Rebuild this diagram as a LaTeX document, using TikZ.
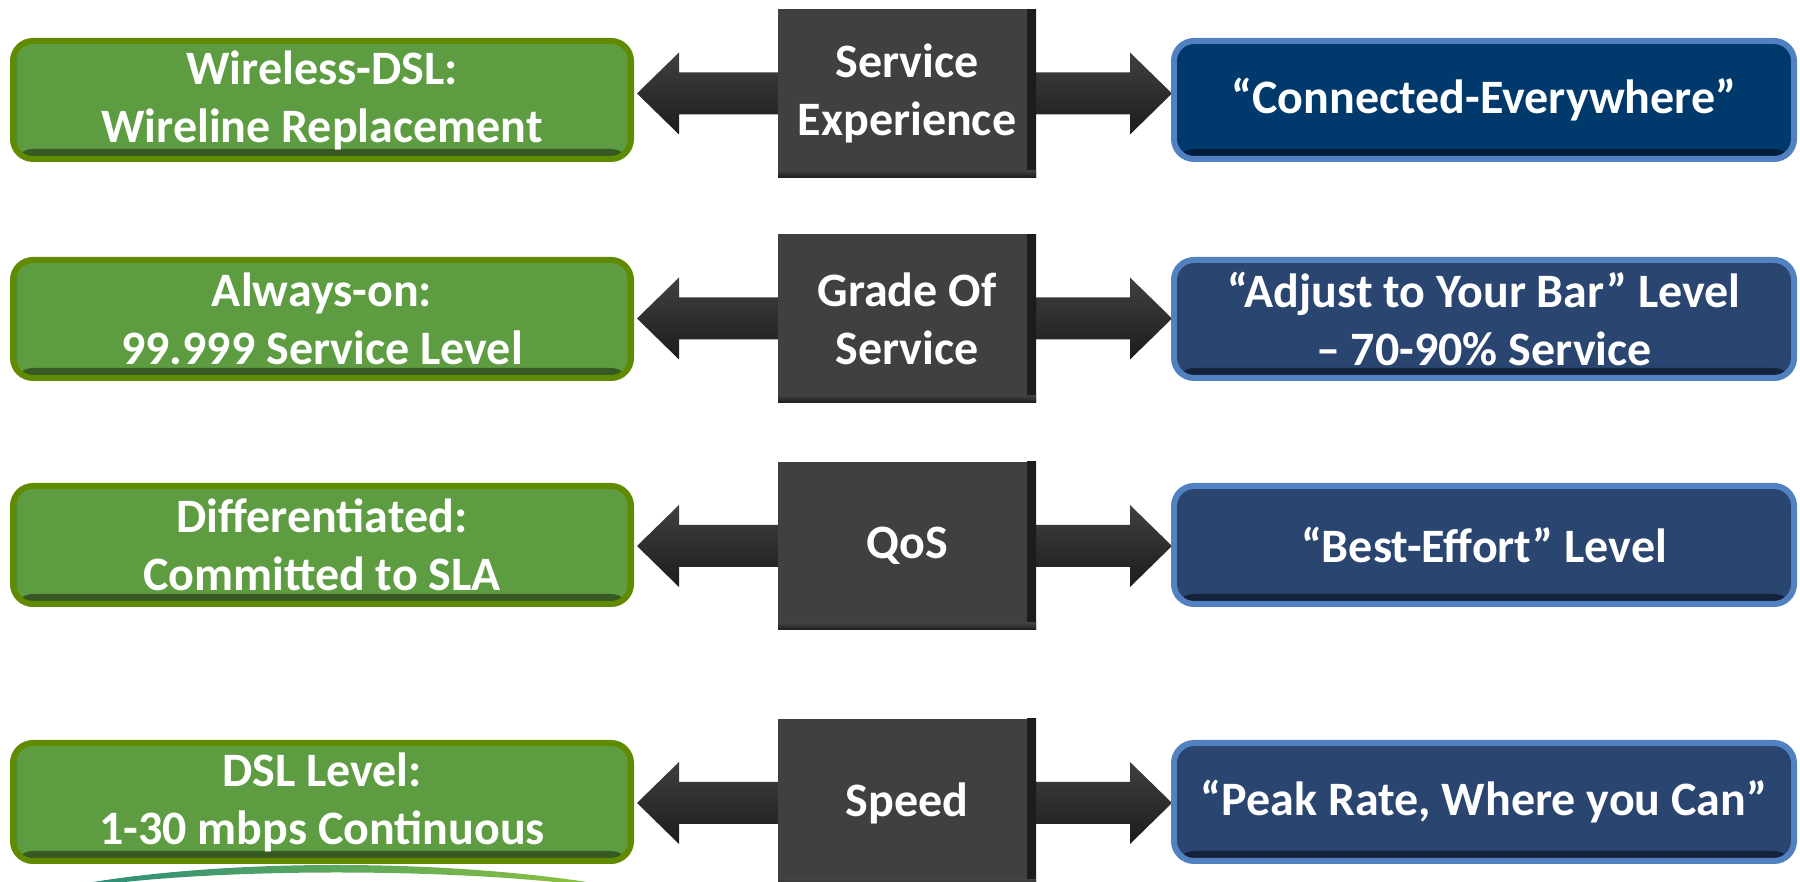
\documentclass[tikz,border=0pt]{standalone}
\usepackage{fontspec}
\setmainfont{Carlito}
\usetikzlibrary{calc,backgrounds}
\definecolor{gmain}{RGB}{94,156,66}
\definecolor{gdark}{RGB}{52,84,34}
\definecolor{gborder}{RGB}{96,138,0}
\definecolor{bmain}{RGB}{42,69,112}
\definecolor{bdark}{RGB}{20,32,56}
\definecolor{bnavy}{RGB}{0,57,108}
\definecolor{bnavydark}{RGB}{0,28,56}
\definecolor{bborder}{RGB}{82,129,193}
\definecolor{dbox}{RGB}{64,64,64}
\definecolor{dshadow}{RGB}{28,28,28}
\definecolor{arcteal}{RGB}{40,140,125}
\definecolor{arcgreen}{RGB}{70,160,80}
\definecolor{arclime}{RGB}{145,195,60}
\tikzset{
  x=1pt, y=1pt,
  boxtext/.style={font=\bfseries\fontsize{48}{58}\selectfont, text=white, align=center, inner sep=0pt},
  bevel/.style 2 args={boxtext, rounded corners=20pt, line width=6pt,
    minimum height=118pt, fill=#1,
    path picture={
      \shade[top color=#1, bottom color=#2] ([yshift=10pt]path picture bounding box.south west) rectangle (path picture bounding box.south east);
      \shade[left color=#2, right color=#1, opacity=0.5] (path picture bounding box.south west) rectangle ([xshift=5pt]path picture bounding box.north west);
      \shade[left color=#1, right color=#2, opacity=0.5] ([xshift=-5pt]path picture bounding box.south east) rectangle (path picture bounding box.north east);
    }},
  greenbox/.style={bevel={gmain}{gdark}, draw=gborder, minimum width=618pt},
  bluebox/.style={bevel={bmain}{bdark}, draw=bborder, minimum width=620pt},
  navybox/.style={bevel={bnavy}{bnavydark}, draw=bborder, minimum width=620pt},
  darkbox/.style={boxtext, fill=dbox, minimum width=258pt, minimum height=168pt,
    path picture={
      \shade[left color=dbox, right color=dshadow] ([xshift=-9pt]path picture bounding box.north east) rectangle (path picture bounding box.south east);
      \shade[top color=dbox, bottom color=dshadow] ([yshift=7pt]path picture bounding box.south west) rectangle (path picture bounding box.south east);
    }},
  arrowbody/.style={top color=dbox, middle color=dbox, bottom color=dshadow},
}
\newcommand{\leftarr}[2]{%
  \shade[arrowbody] let \p1=(#1.west), \p2=($(#2.east |- #1.west)+(3,0)$) in
    (\x1+2,\y1+21) -- (\x2+42,\y1+21) -- (\x2+42,\y1+41) -- (\x2,\y1)
    -- (\x2+42,\y1-41) -- (\x2+42,\y1-21) -- (\x1+2,\y1-21) -- cycle;}
\newcommand{\rightarr}[2]{%
  \shade[arrowbody] let \p1=(#1.east), \p2=($(#2.west |- #1.east)+(1,0)$) in
    (\x1-2,\y1+21) -- (\x2-42,\y1+21) -- (\x2-42,\y1+41) -- (\x2,\y1)
    -- (\x2-42,\y1-41) -- (\x2-42,\y1-21) -- (\x1-2,\y1-21) -- cycle;}
\begin{document}
\begin{tikzpicture}
\useasboundingbox (0,0) rectangle (1800,882);
\clip (0,0) rectangle (1800,882);

% bottom arc
\shade[left color=arcteal, middle color=arcgreen, right color=arclime]
  (70,-4) .. controls (220,24) and (450,24) .. (612,-4)
  -- (590,-4) .. controls (450,14) and (220,14) .. (92,-4) -- cycle;

% row 1
\node[greenbox] (g1) at (322,782) {Wireless-DSL:\\Wireline Replacement};
\node[darkbox]  (d1) at (907,788.5) {Service\\Experience};
\node[navybox]  (b1) at (1484,782) {“Connected-Everywhere”};
% row 2
\node[greenbox] (g2) at (322,563) {Always-on:\\99.999 Service Level};
\node[darkbox]  (d2) at (907,563.5) {Grade Of\\Service};
\node[bluebox]  (b2) at (1484,563) {“Adjust to Your Bar” Level\\– 70-90\% Service};
% row 3
\node[greenbox] (g3) at (322,337) {Differentiated:\\Committed to SLA};
\node[darkbox]  (d3) at (907,336) {QoS};
\node[bluebox]  (b3) at (1484,337) {“Best-Effort” Level};
% row 4
\node[greenbox] (g4) at (322,80) {DSL Level:\\1-30 mbps Continuous};
\node[darkbox]  (d4) at (907,79) {Speed};
\node[bluebox]  (b4) at (1484,80) {“Peak Rate, Where you Can”};

\begin{scope}[on background layer]
\leftarr{d1}{g1} \rightarr{d1}{b1}
\leftarr{d2}{g2} \rightarr{d2}{b2}
\leftarr{d3}{g3} \rightarr{d3}{b3}
\leftarr{d4}{g4} \rightarr{d4}{b4}
\end{scope}
\end{tikzpicture}
\end{document}
